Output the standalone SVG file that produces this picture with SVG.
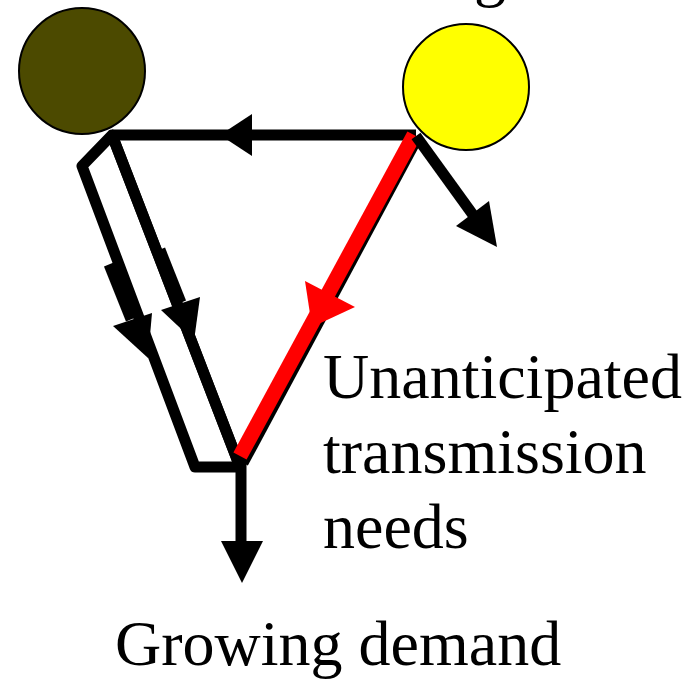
<svg xmlns="http://www.w3.org/2000/svg" width="692" height="679" viewBox="0 0 692 679">
<style>
.t{font-family:"Liberation Serif","Times New Roman",serif;font-size:64px;fill:#000}
.ln{stroke:#000;stroke-width:11;fill:none}
.hd{fill:#000;stroke:none}
</style>
<rect width="692" height="679" fill="#fff"/>
<g id="connectors">
  <polygon class="ln" stroke-linejoin="round" points="112,135 82,166 195,467 240,467"/>
  <line class="ln" x1="240" y1="467" x2="112" y2="135"/>
  <line class="ln" x1="112" y1="135" x2="416" y2="135"/>
  <polygon class="hd" points="220,135 252,114 252,156"/>
  <line class="ln" x1="110" y1="264" x2="132" y2="319" style="stroke-width:13"/>
  <polygon class="hd" points="148,358 113,326 152,313"/>
  <line class="ln" x1="159" y1="250" x2="180" y2="303" style="stroke-width:13"/>
  <polygon class="hd" points="194,341 161,310 200,297"/>
  <line class="ln" x1="418" y1="137" x2="243" y2="463"/>
  <line x1="414" y1="135" x2="240" y2="456" stroke="#ff0000" stroke-width="15"/>
  <polygon fill="#ff0000" points="312,327 305,281 355,307"/>
  <line class="ln" x1="416" y1="136" x2="476" y2="219"/>
  <polygon class="hd" points="497,247 456,226 489,201"/>
  <line class="ln" x1="241" y1="460" x2="241" y2="545"/>
  <polygon class="hd" points="242,583 221,541 263,541"/>
</g>
<g id="node-left">
  <circle cx="82" cy="71" r="63" fill="#4c4a00" stroke="#000" stroke-width="2"/>
</g>
<g id="node-right">
  <circle cx="466" cy="87" r="63" fill="#ffff00" stroke="#000" stroke-width="2"/>
</g>
<g id="label-top">
  <text class="t" x="474" y="-6">g</text>
</g>
<g id="label-transmission">
  <text class="t" x="323" y="398">Unanticipated</text>
  <text class="t" x="323" y="473">transmission</text>
  <text class="t" x="323" y="548">needs</text>
</g>
<g id="label-demand">
  <text class="t" x="115" y="665">Growing demand</text>
</g>
</svg>
